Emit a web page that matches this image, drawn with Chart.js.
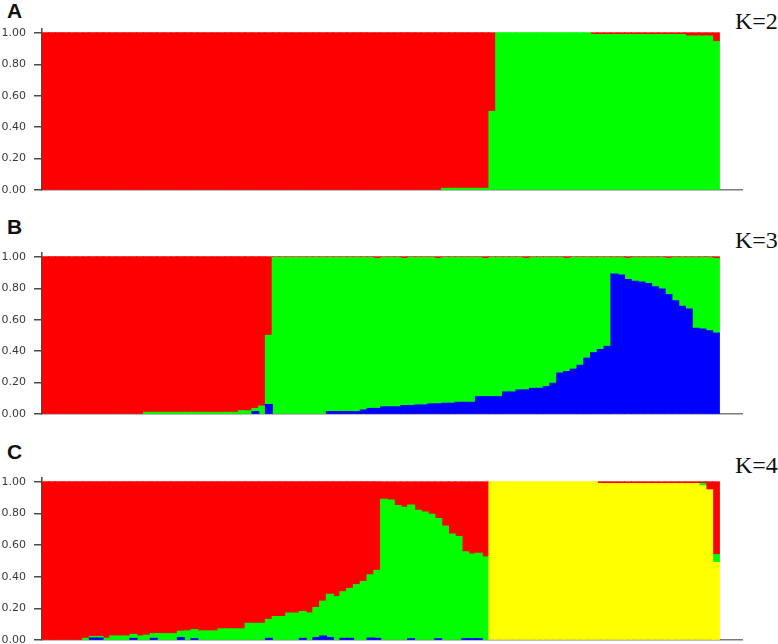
<!DOCTYPE html>
<html lang="ja">
<head>
<meta charset="utf-8">
<title>STRUCTURE K=2〜4</title>
<script src="https://cdn.jsdelivr.net/npm/chart.js@4.4.1/dist/chart.umd.min.js"></script>
<style>
  html, body { margin: 0; padding: 0; background: #fff; overflow: hidden; }
  body { width: 778px; height: 644px; position: relative; }
  .panel { position: absolute; left: 0; width: 743px; }
  .tag { position: absolute; left: 7px; font: bold 21px 'Liberation Sans', Arial, sans-serif; line-height: 20px; color: #111; }
  .k { position: absolute; left: 735px; font: 24px 'Liberation Serif', 'Times New Roman', serif; line-height: 24px; color: #111; white-space: nowrap; }
</style>
</head>
<body>
<div class="tag" style="top:1px">A</div>
<div class="k" style="top:9px">K=2</div>
<div class="panel" style="top:13px;height:193px"><canvas id="chart-k2"></canvas></div>

<div class="tag" style="top:217px">B</div>
<div class="k" style="top:228px">K=3</div>
<div class="panel" style="top:237px;height:193px"><canvas id="chart-k3"></canvas></div>

<div class="tag" style="top:442px">C</div>
<div class="k" style="top:453px">K=4</div>
<div class="panel" style="top:462px;height:194px"><canvas id="chart-k4"></canvas></div>

<script>
/**
 * STRUCTURE 解析の帰属確率プロット (K=2, 3, 4)
 * 個体ごとの積み上げ棒グラフ
 */

// 個体番号
const individuals = [
  1, 2, 3, 4, 5, 6, 7, 8, 9, 10,
  11, 12, 13, 14, 15, 16, 17, 18, 19, 20,
  21, 22, 23, 24, 25, 26, 27, 28, 29, 30,
  31, 32, 33, 34, 35, 36, 37, 38, 39, 40,
  41, 42, 43, 44, 45, 46, 47, 48, 49, 50,
  51, 52, 53, 54, 55, 56, 57, 58, 59, 60,
  61, 62, 63, 64, 65, 66, 67, 68, 69, 70,
  71, 72, 73, 74, 75, 76, 77, 78, 79, 80,
  81, 82, 83, 84, 85, 86, 87, 88, 89, 90,
  91, 92, 93, 94, 95, 96, 97, 98, 99, 100,
];

// Y 軸の目盛り
const yTicks = [0, 0.2, 0.4, 0.6, 0.8, 1.0];

// --- K=2 ---
const k2Green = [
  0, 0, 0, 0, 0, 0, 0, 0, 0, 0,
  0, 0, 0, 0, 0, 0, 0, 0, 0, 0,
  0, 0, 0, 0, 0, 0, 0, 0, 0, 0,
  0, 0, 0, 0, 0, 0, 0, 0, 0, 0,
  0, 0, 0, 0, 0, 0, 0, 0, 0, 0,
  0, 0, 0, 0, 0, 0, 0, 0, 0, 0.01,
  0.01, 0.01, 0.01, 0.01, 0.01, 0.01, 0.5, 1, 1, 1,
  1, 1, 1, 1, 1, 1, 1, 1, 1, 1,
  1, 0.99, 0.99, 0.99, 0.99, 0.99, 0.99, 0.99, 0.99, 0.99,
  0.99, 0.99, 0.99, 0.99, 0.99, 0.98, 0.98, 0.98, 0.98, 0.945,
];
const k2Red = [
  1, 1, 1, 1, 1, 1, 1, 1, 1, 1,
  1, 1, 1, 1, 1, 1, 1, 1, 1, 1,
  1, 1, 1, 1, 1, 1, 1, 1, 1, 1,
  1, 1, 1, 1, 1, 1, 1, 1, 1, 1,
  1, 1, 1, 1, 1, 1, 1, 1, 1, 1,
  1, 1, 1, 1, 1, 1, 1, 1, 1, 0.99,
  0.99, 0.99, 0.99, 0.99, 0.99, 0.99, 0.5, 0, 0, 0,
  0, 0, 0, 0, 0, 0, 0, 0, 0, 0,
  0, 0.01, 0.01, 0.01, 0.01, 0.01, 0.01, 0.01, 0.01, 0.01,
  0.01, 0.01, 0.01, 0.01, 0.01, 0.02, 0.02, 0.02, 0.02, 0.055,
];

// --- K=3 ---
const k3Blue = [
  0, 0, 0, 0, 0, 0, 0, 0, 0, 0,
  0, 0, 0, 0, 0, 0, 0, 0, 0, 0,
  0, 0, 0, 0, 0, 0, 0, 0, 0, 0,
  0, 0.015, 0, 0.06, 0, 0, 0, 0, 0, 0,
  0, 0, 0.015, 0.015, 0.015, 0.015, 0.015, 0.025, 0.035, 0.035,
  0.045, 0.045, 0.045, 0.053, 0.053, 0.057, 0.057, 0.064, 0.064, 0.068,
  0.068, 0.074, 0.074, 0.074, 0.11, 0.11, 0.11, 0.11, 0.14, 0.14,
  0.153, 0.153, 0.163, 0.163, 0.174, 0.195, 0.26, 0.27, 0.285, 0.31,
  0.355, 0.39, 0.41, 0.43, 0.89, 0.885, 0.855, 0.845, 0.84, 0.83,
  0.81, 0.795, 0.76, 0.72, 0.685, 0.668, 0.545, 0.54, 0.53, 0.515,
];
const k3Green = [
  0, 0, 0, 0, 0, 0, 0, 0, 0, 0,
  0, 0, 0, 0, 0, 0.01, 0.01, 0.01, 0.01, 0.01,
  0.01, 0.01, 0.01, 0.01, 0.01, 0.01, 0.01, 0.01, 0.01, 0.02,
  0.02, 0.02, 0.05, 0.44, 0.995, 0.995, 0.995, 0.995, 0.995, 0.995,
  0.995, 0.995, 0.98, 0.98, 0.98, 0.98, 0.98, 0.97, 0.96, 0.955,
  0.95, 0.95, 0.95, 0.937, 0.942, 0.938, 0.938, 0.931, 0.926, 0.927,
  0.927, 0.921, 0.921, 0.921, 0.885, 0.88, 0.885, 0.885, 0.855, 0.855,
  0.842, 0.837, 0.832, 0.832, 0.821, 0.8, 0.735, 0.72, 0.71, 0.685,
  0.64, 0.605, 0.585, 0.565, 0.105, 0.11, 0.135, 0.15, 0.155, 0.165,
  0.185, 0.2, 0.23, 0.275, 0.31, 0.327, 0.45, 0.455, 0.465, 0.475,
];
const k3Red = [
  1, 1, 1, 1, 1, 1, 1, 1, 1, 1,
  1, 1, 1, 1, 1, 0.99, 0.99, 0.99, 0.99, 0.99,
  0.99, 0.99, 0.99, 0.99, 0.99, 0.99, 0.99, 0.99, 0.99, 0.98,
  0.98, 0.965, 0.95, 0.5, 0.005, 0.005, 0.005, 0.005, 0.005, 0.005,
  0.005, 0.005, 0.005, 0.005, 0.005, 0.005, 0.005, 0.005, 0.005, 0.01,
  0.005, 0.005, 0.005, 0.01, 0.005, 0.005, 0.005, 0.005, 0.01, 0.005,
  0.005, 0.005, 0.005, 0.005, 0.005, 0.01, 0.005, 0.005, 0.005, 0.005,
  0.005, 0.01, 0.005, 0.005, 0.005, 0.005, 0.005, 0.01, 0.005, 0.005,
  0.005, 0.005, 0.005, 0.005, 0.005, 0.005, 0.01, 0.005, 0.005, 0.005,
  0.005, 0.005, 0.01, 0.005, 0.005, 0.005, 0.005, 0.005, 0.005, 0.01,
];

// --- K=4 ---
const k4Blue = [
  0, 0, 0, 0, 0, 0, 0, 0.012, 0.012, 0,
  0, 0, 0, 0.01, 0, 0, 0.01, 0, 0, 0,
  0.015, 0, 0.008, 0, 0, 0, 0, 0, 0, 0,
  0, 0, 0, 0.01, 0, 0, 0, 0, 0.01, 0,
  0.015, 0.025, 0.015, 0, 0.01, 0.01, 0, 0, 0.012, 0.01,
  0, 0, 0, 0, 0.008, 0, 0, 0, 0.008, 0,
  0, 0, 0.008, 0.008, 0.008, 0, 0, 0, 0, 0,
  0, 0, 0, 0, 0, 0, 0, 0, 0, 0,
  0, 0, 0, 0, 0, 0, 0, 0, 0, 0,
  0, 0, 0, 0, 0, 0, 0, 0, 0, 0,
];
const k4Yellow = [
  0, 0, 0, 0, 0, 0, 0, 0, 0, 0,
  0, 0, 0, 0, 0, 0, 0, 0, 0, 0,
  0, 0, 0, 0, 0, 0, 0, 0, 0, 0,
  0, 0, 0, 0, 0, 0, 0, 0, 0, 0,
  0, 0, 0, 0, 0, 0, 0, 0, 0, 0,
  0, 0, 0, 0, 0, 0, 0, 0, 0, 0,
  0, 0, 0, 0, 0, 0, 1, 1, 1, 1,
  1, 1, 1, 1, 1, 1, 1, 1, 1, 1,
  1, 1, 0.99, 0.99, 0.99, 0.99, 0.99, 0.99, 0.99, 0.99,
  0.99, 0.99, 0.99, 0.99, 0.99, 0.99, 0.99, 0.975, 0.95, 0.49,
];
const k4Green = [
  0, 0, 0, 0, 0, 0, 0.01, 0.01, 0.01, 0.01,
  0.025, 0.025, 0.025, 0.025, 0.025, 0.03, 0.03, 0.04, 0.04, 0.04,
  0.04, 0.057, 0.057, 0.057, 0.057, 0.057, 0.07, 0.07, 0.07, 0.07,
  0.105, 0.105, 0.105, 0.12, 0.148, 0.148, 0.17, 0.17, 0.17, 0.17,
  0.19, 0.22, 0.274, 0.274, 0.295, 0.316, 0.35, 0.37, 0.4, 0.43,
  0.89, 0.885, 0.85, 0.84, 0.845, 0.82, 0.81, 0.795, 0.76, 0.72,
  0.67, 0.655, 0.55, 0.535, 0.54, 0.525, 0, 0, 0, 0,
  0, 0, 0, 0, 0, 0, 0, 0, 0, 0,
  0, 0, 0, 0, 0, 0, 0, 0, 0, 0,
  0, 0, 0, 0, 0, 0, 0, 0.015, 0, 0.05,
];
const k4Red = [
  1, 1, 1, 1, 1, 1, 0.99, 0.978, 0.978, 0.99,
  0.975, 0.975, 0.975, 0.965, 0.975, 0.97, 0.96, 0.96, 0.96, 0.96,
  0.945, 0.943, 0.935, 0.943, 0.943, 0.943, 0.93, 0.93, 0.93, 0.93,
  0.895, 0.895, 0.895, 0.87, 0.852, 0.852, 0.83, 0.83, 0.82, 0.83,
  0.795, 0.755, 0.711, 0.726, 0.695, 0.674, 0.65, 0.63, 0.588, 0.56,
  0.11, 0.115, 0.15, 0.16, 0.147, 0.18, 0.19, 0.205, 0.232, 0.28,
  0.33, 0.345, 0.442, 0.457, 0.452, 0.475, 0, 0, 0, 0,
  0, 0, 0, 0, 0, 0, 0, 0, 0, 0,
  0, 0, 0.01, 0.01, 0.01, 0.01, 0.01, 0.01, 0.01, 0.01,
  0.01, 0.01, 0.01, 0.01, 0.01, 0.01, 0.01, 0.01, 0.05, 0.46,
];

/** カラーパレット */
const COLORS = {
  red: '#ff0000',
  green: '#00ff00',
  blue: '#0000ff',
  yellow: '#ffff00',
  axis: '#4a4a4a',
  baseline: '#7a7a7a',
  tick: '#3a3a3a',
};

/**
 * 1 パネル分の積み上げ棒グラフを作る
 * layers は下から順に [ラベル, 値, 色]
 */
function makePanel(id, layers) {
  const ctx = document.getElementById(id);
  if (!ctx) return null;

  return new Chart(ctx, {
    type: 'bar',
    data: {
      labels: individuals,
      datasets: layers.map(([label, values, color]) => ({
        label,
        // 0 の区間は描かない（継ぎ目の線が出るため）
        data: values.map((v) => (v > 0 ? v : null)),
        backgroundColor: color,
        borderWidth: 0,
        barPercentage: 1,
        categoryPercentage: 1,
        // 隣の棒と少し重ねて白い隙間を消す
        inflateAmount: 0.6,
      })),
    },
    options: {
      responsive: true,
      maintainAspectRatio: false,
      animation: false,
      layout: {
        // 目盛りラベル分の余白より大きく取って描画域を固定する
        padding: { top: 16, bottom: 16, left: 0, right: 0 },
      },
      plugins: {
        legend: { display: false },
        tooltip: { enabled: false },
      },
      scales: {
        x: {
          type: 'linear',
          stacked: true,
          offset: false,
          min: 0.5,
          max: 104,
          z: 1,
          ticks: { display: false },
          grid: { display: false, drawTicks: false },
          border: { display: true, color: COLORS.baseline, width: 1.5 },
        },
        y: {
          stacked: true,
          min: 0,
          max: 1.025,
          z: 1,
          afterBuildTicks: (scale) => {
            scale.ticks = yTicks.map((v) => ({ value: v }));
          },
          afterFit: (scale) => {
            scale.width = 42;
          },
          ticks: {
            callback: (v) => Number(v).toFixed(2),
            color: COLORS.tick,
            font: { family: "'DejaVu Sans', sans-serif", size: 11 },
            padding: 8,
          },
          grid: {
            drawOnChartArea: false,
            drawTicks: true,
            tickLength: 8,
            color: COLORS.axis,
            lineWidth: 1.5,
          },
          border: { display: true, color: COLORS.axis, width: 1.5 },
        },
      },
    },
  });
}

makePanel('chart-k2', [
  ['Cluster 2', k2Green, COLORS.green],
  ['Cluster 1', k2Red, COLORS.red],
]);

makePanel('chart-k3', [
  ['Cluster 3', k3Blue, COLORS.blue],
  ['Cluster 2', k3Green, COLORS.green],
  ['Cluster 1', k3Red, COLORS.red],
]);

makePanel('chart-k4', [
  ['Cluster 4', k4Blue, COLORS.blue],
  ['Cluster 3', k4Yellow, COLORS.yellow],
  ['Cluster 2', k4Green, COLORS.green],
  ['Cluster 1', k4Red, COLORS.red],
]);
</script>
</body>
</html>
